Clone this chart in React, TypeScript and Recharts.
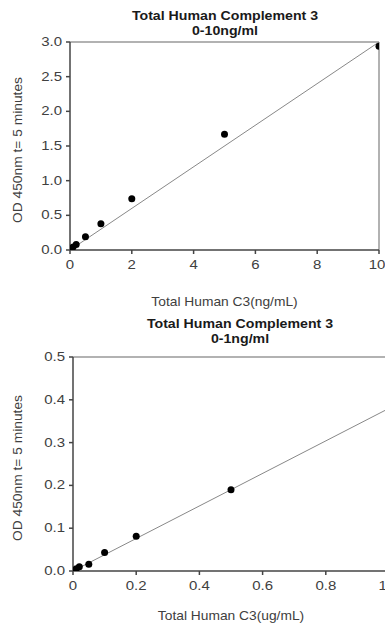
import React from "react";
import {
  ComposedChart,
  Scatter,
  Line,
  XAxis,
  YAxis,
  ReferenceLine,
} from "recharts";

// ---- Data ----
const topConc = [0, 0.01, 0.02, 0.05, 0.1, 0.2, 0.5, 1, 2, 5, 10];
const topOD = [0, 0.005, 0.01, 0.016, 0.043, 0.081, 0.19, 0.38, 0.74, 1.67, 2.94];
const topFitX = [0, 10];
const topFitY = [0, 3.0];
const topXTicks = [0, 2, 4, 6, 8, 10];
const topYTicks = [0, 0.5, 1.0, 1.5, 2.0, 2.5, 3.0];

const botConc = [0, 0.01, 0.02, 0.05, 0.1, 0.2, 0.5, 1.0];
const botOD = [0, 0.005, 0.01, 0.016, 0.043, 0.081, 0.19, 0.38];
const botFitX = [0, 1.0];
const botFitY = [0, 0.38];
const botXTicks = [0, 0.2, 0.4, 0.6, 0.8, 1.0];
const botYTicks = [0, 0.1, 0.2, 0.3, 0.4, 0.5];

const titleMain = "Total Human Complement 3";
const topSub = "0-10ng/ml";
const botSub = "0-1ng/ml";
const yLabel = "OD 450nm t= 5 minutes";
const topXLabel = "Total Human C3(ng/mL)";
const botXLabel = "Total Human C3(ug/mL)";

const zip = (xs: number[], ys: number[]) => xs.map((x, i) => ({ x, y: ys[i] }));

const FONT = "'Liberation Sans', Arial, sans-serif";
const TEXT = "#404040";
const SX = 1.15;

const makeTick = (fmt: (v: number) => string, anchor: string, dy: number) => (props: any) => {
  const { x, y, payload } = props;
  return (
    <text
      transform={`translate(${x},${y}) scale(1.2,1)`}
      textAnchor={anchor}
      dy={dy}
      fontFamily={FONT}
      fontSize={12.5}
      fill={TEXT}
    >
      {fmt(payload.value)}
    </text>
  );
};

const Title = ({ top, left, sub }: { top: number; left: number; sub: string }) => (
  <div
    style={{
      position: "absolute",
      top,
      left,
      width: 260,
      textAlign: "center",
      fontFamily: FONT,
      fontWeight: "bold",
      fontSize: 12,
      lineHeight: "15px",
      color: "#1a1a1a",
      transform: `scaleX(1.18)`,
    }}
  >
    <div>{titleMain}</div>
    <div>{sub}</div>
  </div>
);

const YTitle = (props: any) => {
  const { viewBox } = props;
  const cx = 18;
  const cy = viewBox.y + viewBox.height / 2 + 4;
  return (
    <text
      transform={`translate(${cx},${cy}) rotate(-90) scale(${SX},1)`}
      textAnchor="middle"
      dominantBaseline="central"
      fontFamily={FONT}
      fontSize={12}
      fill={TEXT}
    >
      {yLabel}
    </text>
  );
};

const XTitle = (text: string, dy: number) => (props: any) => {
  const { viewBox } = props;
  const cx = viewBox.x + viewBox.width / 2;
  return (
    <text
      transform={`translate(${cx},${viewBox.y + dy}) scale(${SX},1)`}
      textAnchor="middle"
      fontFamily={FONT}
      fontSize={12}
      fill={TEXT}
    >
      {text}
    </text>
  );
};

const dot = (props: any) => <circle cx={props.cx} cy={props.cy} r={3.5} fill="#000" />;

export default function App() {
  const topPts = zip(topConc, topOD);
  const topFit = zip(topFitX, topFitY);
  const botPts = zip(botConc, botOD);
  const botFit = zip(botFitX, botFitY);
  return (
    <div
      style={{
        position: "absolute",
        top: 0,
        left: 0,
        width: 385,
        height: 623,
        overflow: "hidden",
        background: "#fff",
      }}
    >
      <div style={{ position: "absolute", top: 0, left: 0 }}>
        <ComposedChart width={385} height={310} margin={{ top: 42, right: 6, bottom: 0, left: 0 }}>
          <XAxis
            type="number"
            dataKey="x"
            domain={[0, 10]}
            ticks={topXTicks}
            tick={makeTick((v) => String(v), "middle", 11)}
            tickSize={4}
            tickMargin={4}
            height={60}
            stroke="#444"
            strokeWidth={1.5}
            allowDataOverflow
            label={XTitle(topXLabel, 56)}
          />
          <YAxis
            type="number"
            dataKey="y"
            domain={[0, 3]}
            ticks={topYTicks}
            tick={makeTick((v) => v.toFixed(1), "end", 4)}
            tickSize={4}
            tickMargin={4}
            width={70}
            stroke="#444"
            strokeWidth={1.5}
            allowDataOverflow
            label={YTitle}
          />
          <ReferenceLine y={topYTicks[topYTicks.length - 1]} stroke="#999" strokeWidth={1.5} ifOverflow="visible" />
          <ReferenceLine x={topXTicks[topXTicks.length - 1]} stroke="#999" strokeWidth={1.5} ifOverflow="visible" />
          <Line data={topFit} dataKey="y" type="linear" stroke="#888" strokeWidth={1} dot={false} isAnimationActive={false} />
          <Scatter data={topPts} dataKey="y" shape={dot} isAnimationActive={false} />
        </ComposedChart>
      </div>
      <Title top={9} left={95} sub={topSub} />

      <div style={{ position: "absolute", top: 310, left: 0 }}>
        <ComposedChart width={400} height={313} margin={{ top: 47, right: 11, bottom: 0, left: 0 }}>
          <XAxis
            type="number"
            dataKey="x"
            domain={[0, 1]}
            ticks={botXTicks}
            tick={makeTick((v) => (v === 0 ? "0" : v.toFixed(1)), "middle", 11)}
            tickSize={4}
            tickMargin={4}
            height={52}
            stroke="#444"
            strokeWidth={1.5}
            allowDataOverflow
            label={XTitle(botXLabel, 49)}
          />
          <YAxis
            type="number"
            dataKey="y"
            domain={[0, 0.5]}
            ticks={botYTicks}
            tick={makeTick((v) => v.toFixed(1), "end", 4)}
            tickSize={4}
            tickMargin={4}
            width={73}
            stroke="#444"
            strokeWidth={1.5}
            allowDataOverflow
            label={YTitle}
          />
          <ReferenceLine y={botYTicks[botYTicks.length - 1]} stroke="#999" strokeWidth={1.5} ifOverflow="visible" />
          <ReferenceLine x={botXTicks[botXTicks.length - 1]} stroke="#999" strokeWidth={1.5} ifOverflow="visible" />
          <Line data={botFit} dataKey="y" type="linear" stroke="#888" strokeWidth={1} dot={false} isAnimationActive={false} />
          <Scatter data={botPts} dataKey="y" shape={dot} isAnimationActive={false} />
        </ComposedChart>
      </div>
      <Title top={317} left={110} sub={botSub} />
    </div>
  );
}
